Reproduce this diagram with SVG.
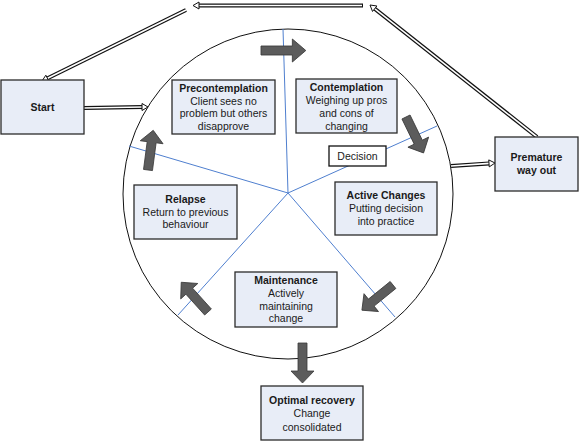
<svg xmlns="http://www.w3.org/2000/svg" xmlns:xlink="http://www.w3.org/1999/xlink" width="579" height="441" viewBox="0 0 579 441">
<style>
.box{fill:#e8edf7;stroke:#2b2b2b;stroke-width:1.3}
.wbox{fill:#ffffff;stroke:#111;stroke-width:1.3}
.t{font-family:"Liberation Sans",Arial,sans-serif;font-size:10.5px;fill:#1a1a1a;text-anchor:middle}
.b{font-weight:bold}
.spoke{stroke:#4f7fcf;stroke-width:1;fill:none}
.ho{stroke:#111;stroke-width:4;fill:none}
.hi{stroke:#fff;stroke-width:1.6;fill:none}
.hh{fill:#fff;stroke:#111;stroke-width:1}
.ga{fill:#5c5c5c;stroke:#3a3a3a;stroke-width:0.8}
</style>
<defs>
<polygon id="garrow" points="0,-4.5 28,-4.5 28,-11.5 40,0 28,11.5 28,4.5 0,4.5"/>
</defs>
<rect width="579" height="441" fill="#fff"/>
<g id="cycle">
<circle cx="288" cy="194" r="165" fill="#fff" stroke="#111" stroke-width="1"/>
<line class="spoke" x1="288" y1="193" x2="283" y2="29"/>
<line class="spoke" x1="288" y1="193" x2="437" y2="126"/>
<line class="spoke" x1="288" y1="193" x2="395" y2="317"/>
<line class="spoke" x1="288" y1="193" x2="178" y2="315"/>
<line class="spoke" x1="288" y1="193" x2="129" y2="146"/>
</g>
<g id="connectors">
<g>
<line class="ho" x1="84" y1="108" x2="142.5" y2="107"/>
<line class="hi" x1="84" y1="108" x2="142.5" y2="107"/>
<polygon class="hh" points="148,107 142,103.5 142,110.5"/>
</g>
<g>
<line class="ho" x1="451" y1="166" x2="489.3" y2="163.4"/>
<line class="hi" x1="451" y1="166" x2="489.3" y2="163.4"/>
<polygon class="hh" points="495,163 489.24,166.9 488.76,159.9"/>
</g>
<g>
<line class="ho" x1="537" y1="137" x2="374.9" y2="8.9"/>
<line class="hi" x1="537" y1="137" x2="374.9" y2="8.9"/>
<polygon class="hh" points="370,5 376.87,5.98 372.53,11.46"/>
</g>
<g>
<line class="ho" x1="363" y1="5.5" x2="198.5" y2="5.5"/>
<line class="hi" x1="362" y1="5.5" x2="198.5" y2="5.5"/>
<polygon class="hh" points="193,5.5 199,2 199,9"/>
</g>
<g>
<line class="ho" x1="186" y1="10" x2="47.6" y2="78.2"/>
<line class="hi" x1="186" y1="10" x2="47.6" y2="78.2"/>
<polygon class="hh" points="42,81 48.95,81.49 45.85,75.21"/>
</g>
<use xlink:href="#garrow" class="ga" transform="translate(261,50.5) scale(1.12,1)"/>
<use xlink:href="#garrow" class="ga" transform="translate(406,117) rotate(64)"/>
<use xlink:href="#garrow" class="ga" transform="translate(393,285) rotate(141)"/>
<use xlink:href="#garrow" class="ga" transform="translate(208,312) rotate(228)"/>
<use xlink:href="#garrow" class="ga" transform="translate(148,170) rotate(-82.5)"/>
<use xlink:href="#garrow" class="ga" transform="translate(302.5,343) rotate(90)"/>
</g>
<g id="start">
<rect class="box" x="1" y="80" width="83" height="54"/>
<text class="t b" x="42.5" y="111">Start</text>
</g>
<g id="precontemplation">
<rect class="box" x="172" y="80" width="103" height="54"/>
<text class="t b" x="223.5" y="92">Precontemplation</text>
<text class="t" x="223.5" y="104.5">Client sees no</text>
<text class="t" x="223.5" y="117.3">problem but others</text>
<text class="t" x="223.5" y="130">disapprove</text>
</g>
<g id="contemplation">
<rect class="box" x="296" y="79" width="101" height="54"/>
<text class="t b" x="346.5" y="91">Contemplation</text>
<text class="t" x="346.5" y="104">Weighing up pros</text>
<text class="t" x="346.5" y="117">and cons of</text>
<text class="t" x="346.5" y="130">changing</text>
</g>
<g id="decision">
<rect class="wbox" x="329" y="146" width="57" height="20"/>
<text class="t" x="357.5" y="160">Decision</text>
</g>
<g id="active">
<rect class="box" x="335" y="182" width="102" height="53"/>
<text class="t b" x="386" y="199">Active Changes</text>
<text class="t" x="386" y="212">Putting decision</text>
<text class="t" x="386" y="225">into practice</text>
</g>
<g id="maintenance">
<rect class="box" x="235" y="272" width="102" height="55"/>
<text class="t b" x="286" y="283.5">Maintenance</text>
<text class="t" x="286" y="296.5">Actively</text>
<text class="t" x="286" y="309.5">maintaining</text>
<text class="t" x="286" y="322">change</text>
</g>
<g id="relapse">
<rect class="box" x="134" y="185" width="103" height="54"/>
<text class="t b" x="185.5" y="203">Relapse</text>
<text class="t" x="185.5" y="215.7">Return to previous</text>
<text class="t" x="185.5" y="228">behaviour</text>
</g>
<g id="optimal">
<rect class="box" x="261" y="386" width="102" height="54"/>
<text class="t b" x="312" y="404">Optimal recovery</text>
<text class="t" x="312" y="417">Change</text>
<text class="t" x="312" y="430.5">consolidated</text>
</g>
<g id="premature">
<rect class="box" x="495" y="137" width="83" height="54"/>
<text class="t b" x="536.5" y="161">Premature</text>
<text class="t b" x="536.5" y="174">way out</text>
</g>
</svg>
